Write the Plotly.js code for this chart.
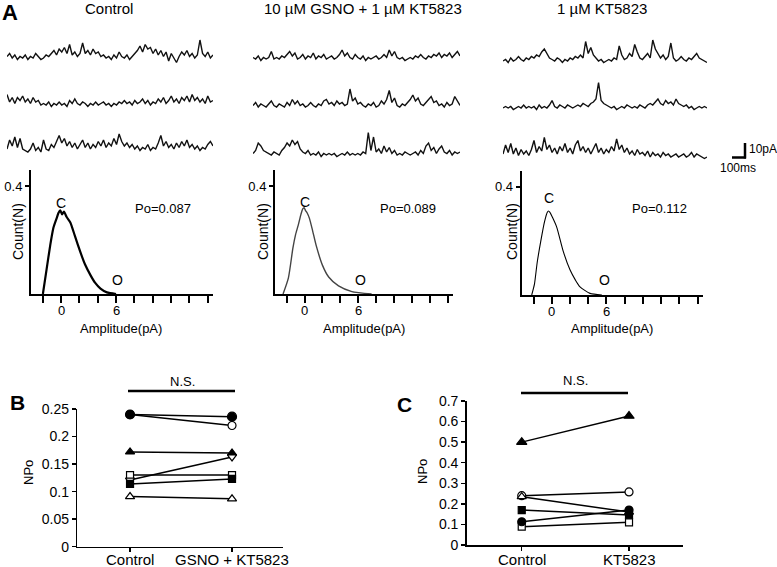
<!DOCTYPE html>
<html><head><meta charset="utf-8">
<script src="https://cdn.plot.ly/plotly-3.0.1.min.js"></script>
<style>html,body{margin:0;padding:0;background:#fff}#chart{width:777px;height:567px}</style>
</head><body><div id="chart"></div>
<script>
// ---------- Panel A: single-channel current traces (pA above closed level), 20 ms samples ----------
const traceDt = 0.02;
const ctrlRow1 = [1,3,0,2,-1,1, 0,2,-1,1,0,3,1,-1,0,2,1, 3,5,2,6,4,7,3, 9, 2,4,1,3, 10, 3,5,2,6,3,4,1,2, 0,1,-1,2,0,4,1,0,2,-1,1,3, 5,8,4,9,6,7,3,6, 2,5,1,4,-2,3,0, -3, 1,4,2,5,1,3,0,2, 12, 3,1,4,0,2];
const ctrlRow2 = [7,2,5,1, 5,3,6,2,4,1,5,2,3,0, 1,0,2,-1,1,0,2,0,1,-1,3,1,4, 1,0,2,1,-1,1,0,2,0,1,2,0,1,-1,1,0,2,1,3, 1,2,0,3,1,2,4,1,3,0,2,1, 4,2,5,1,3,6,2,4,1,5,3,6,2,7,3,5, 2,4,1,6,2,3];
const ctrlRow3 = [2,8,4,10,3,9,2,1, 0,2,6,1,3,0,8, 2,1,5,3,7,11,6,9, 4,7,3,6,2,5,8,3, 6,2,5,3,7,4,8,3, 6,4,9,5,12,7,4, 6,3,5,2,4,1,3,2,5,1,3, 2,6,11,4,7,3,5,2,6,3, 7,4,8,3,5,2,4,1, 3,2,5,7,4];
const gsnoRow1 = [1,0,2,-1,1,0,1,5,0,1, 0,2,1,3,5,2,4,0,1,3, 0,2,1,4,0,2,1,3,0,1, 2,0,1,3,6,2,4,1,0,3, 1,0,2,-1,1,0,1,2,0,1, 3,1,6,2,5,1,0,1,-1,0, 1,0,2,1,3,1,0,2,1,3, 2,4,1,3,2,4,1,3,5,2];
const gsnoRow2 = [1,3,0,2,1,0,2,4,1,0, 2,1,0,3,1,5,2,4,1,2, 0,1,3,1,0,2,1,4,5,2, 3,1,4,2,3,1,2,12,4,6, 2,3,1,0,2,1,3,0,1,4, 2,5,11,3,6,1,0,2,1,3, 5,8,4,6,2,1,3,5,7,3, 4,1,2,0,3,1,2,7,4,1];
const gsnoRow3 = [1,3,8,6,3,2,1,0,2,1, 0,3,5,8,6,10,7,9,4,2, 1,3,0,1,0,2,-1,1,0,1, 0,1,-1,0,1,0,2,0,1,0, 1,0,2,1,15,3,12,2,4,1, 6,2,5,1,3,0,1,0,2,1, 0,1,2,0,3,1,6,8,3,5, 1,4,6,2,1,3,0,2,1,2];
const ktRow1 = [0,1,-1,2,0,1,3,1,0,2, 1,3,2,4,3,6,8,5,2,1, 0,2,1,-1,1,0,2,1,3,2, 4,2,13,5,9,4,2,0,1,-1, 0,1,0,2,1,10,4,1,2,5, 3,11,6,2,1,3,5,2,14,8, 5,2,4,1,3,12,2,0,1,3, 1,0,2,1,3,5,2,1,0,-1];
const ktRow2 = [0,1,0,1,-1,0,1,0,2,0, 1,0,1,-1,2,0,1,0,2,5, 1,0,2,1,0,2,1,0,1,2, 1,3,2,1,3,4,6,17,5,3, 2,1,0,1,-1,0,1,0,2,1, 0,1,0,2,1,0,2,3,2,4, 6,3,2,5,3,4,2,6,3,2, 1,2,0,1,-1,0,1,0,1,0];
const ktRow3 = [2,8,3,9,2,6,1,5,2,4, 1,5,11,3,7,4,13,5,8,3, 6,2,7,4,9,3,6,2,8,11, 4,7,3,6,2,5,9,3,6,2, 5,3,7,4,12,5,8,3,6,2, 4,1,5,2,3,1,4,0,3,1, 2,0,3,1,2,0,1,2,0,1, 2,0,1,3,0,2,1,0,-1,0];

// ---------- Panel A: all-points amplitude histograms ----------
const histCtrlAmp   = [-2.0,-1.6,-1.2,-0.85,-0.5,-0.3,-0.1,0.1,0.3,0.6,1.0,1.5,2.1,2.6,3.2,3.7,4.3,5.0,6.0];
const histCtrlCount = [0,0.09,0.18,0.245,0.28,0.30,0.31,0.295,0.305,0.285,0.265,0.215,0.155,0.11,0.07,0.042,0.02,0.006,0];
const histGsnoAmp   = [-2.4,-1.8,-1.3,-1.0,-0.7,-0.4,-0.2,-0.05,0.1,0.3,0.55,0.9,1.3,2.0,2.7,3.8,5.3,7.5];
const histGsnoCount = [0,0.06,0.17,0.22,0.255,0.295,0.315,0.32,0.31,0.30,0.28,0.235,0.18,0.107,0.063,0.03,0.009,0];
const histKtAmp     = [-2.2,-1.9,-1.6,-1.2,-0.8,-0.5,-0.36,-0.2,0.1,0.55,1.27,2.0,2.6,3.1,4.2,5.5];
const histKtCount   = [0,0.04,0.12,0.20,0.27,0.305,0.31,0.305,0.285,0.25,0.16,0.093,0.055,0.03,0.006,0];
const histTickVals  = [-2,0,2,4,6,8,10,12,14,16];
const histTickText  = ['','0','','','6','','','','',''];
const panelTitles = ['Control','10 µM GSNO + 1 µM KT5823','1 µM KT5823'];
const poLabels = ['Po=0.087','Po=0.089','Po=0.112'];

// ---------- Panel B ----------
const bCategories = ['Control','GSNO + KT5823'];
const bOpenCircle     = [0.240,0.220];
const bFilledCircle   = [0.240,0.236];
const bFilledTriangle = [0.172,0.170];
const bOpenTriDown    = [0.121,0.163];
const bOpenSquare     = [0.130,0.130];
const bFilledSquare   = [0.114,0.123];
const bOpenTriangle   = [0.091,0.087];
const bTickVals = [0,0.05,0.1,0.15,0.2,0.25];
const bTickText = ['0','0.05','0.1','0.15','0.2','0.25'];

// ---------- Panel C ----------
const cCategories = ['Control','KT5823'];
const cFilledTriangle = [0.500,0.627];
const cOpenCircle     = [0.240,0.258];
const cOpenTriangle   = [0.235,0.160];
const cFilledSquare   = [0.170,0.146];
const cFilledCircle   = [0.113,0.170];
const cOpenSquare     = [0.089,0.110];
const cTickVals = [0,0.1,0.2,0.3,0.4,0.5,0.6,0.7];
const cTickText = ['0','0.1','0.2','0.3','0.4','0.5','0.6','0.7'];

// ================= build =================
const FONT = 'Liberation Sans, Arial, sans-serif';
const W = 777, H = 567;
const fx = p => p / W, fy = p => 1 - p / H;
const data = [];
const layout = {width:W, height:H, margin:{l:0,r:0,t:0,b:0}, paper_bgcolor:'#fff', plot_bgcolor:'rgba(0,0,0,0)',
  showlegend:false, font:{family:FONT, color:'#000', size:13}, annotations:[], shapes:[], hovermode:false};
let axN = 0;
function addAxes(xa, ya){
  axN++; const s = axN === 1 ? '' : String(axN);
  layout['xaxis'+s] = Object.assign({anchor:'y'+s, fixedrange:true}, xa);
  layout['yaxis'+s] = Object.assign({anchor:'x'+s, fixedrange:true}, ya);
  return {x:'x'+s, y:'y'+s};
}
function ann(text, x, y, o){
  layout.annotations.push(Object.assign({text:text, x:fx(x), y:fy(y), xref:'paper', yref:'paper',
    showarrow:false, xanchor:'center', yanchor:'middle', font:{size:13, family:FONT, color:'#000'}}, o||{}));
}

// traces
const recordings = [[ctrlRow1,ctrlRow2,ctrlRow3],[gsnoRow1,gsnoRow2,gsnoRow3],[ktRow1,ktRow2,ktRow3]];
const recGeom = [{x0:7,x1:213,base:[58,105,152]},{x0:253,x1:460,base:[59,107,155]},{x0:503,x1:707,base:[61,108,157]}];
recordings.forEach((rows,c)=>rows.forEach((vals,r)=>{
  const g = recGeom[c], yb = g.base[r];
  const ax = addAxes({domain:[fx(g.x0),fx(g.x1)], range:[0,(vals.length-1)*traceDt], visible:false},
                     {domain:[fy(yb+9),fy(yb-27)], range:[-6,18], visible:false});
  data.push({type:'scatter', mode:'lines', x:vals.map((_,i)=>i*traceDt), y:vals, xaxis:ax.x, yaxis:ax.y,
    line:{color:'#111', width:1.4}, hoverinfo:'skip'});
}));

// histograms
const hists = [[histCtrlAmp,histCtrlCount],[histGsnoAmp,histGsnoCount],[histKtAmp,histKtCount]];
const histGeom = [
  {x0:31,x1:213,y0:170,y1:294,y04:186,color:'#000',w:2.2, cx:61,cy:203, ox:117,oy:280, px:163,py:208, tx:109, nx:18, ax:121},
  {x0:275,x1:453,y0:170,y1:294,y04:186,color:'#444',w:1.4, cx:305,cy:202, ox:360,oy:280, px:408,py:208, tx:363, nx:263, ax:364},
  {x0:521.7,x1:703,y0:171,y1:295,y04:186.7,color:'#000',w:1.1, cx:549,cy:198, ox:604,oy:280, px:659,py:208, tx:602, nx:512, ax:612}
];
hists.forEach((h,i)=>{
  const g = histGeom[i];
  const top = 0.4*(g.y1-g.y0)/(g.y1-g.y04);
  const ax = addAxes(
    {domain:[fx(g.x0),fx(g.x1)], range:[-3.3,16.6], tickvals:histTickVals, showticklabels:false, ticks:'outside',
     ticklen:7, tickwidth:2, tickcolor:'#000', showline:true, linewidth:2, linecolor:'#000', showgrid:false, zeroline:false},
    {domain:[fy(g.y1),fy(g.y0)], range:[0,top], tickvals:[0.4], ticktext:['0.4'], ticks:'outside', ticklen:4, tickwidth:2,
     tickcolor:'#000', showline:true, linewidth:2, linecolor:'#000', showgrid:false, zeroline:false, tickfont:{size:13, family:FONT}});
  data.push({type:'scatter', mode:'lines', x:h[0], y:h[1], xaxis:ax.x, yaxis:ax.y, line:{color:g.color, width:g.w, shape:'spline', smoothing:0.6}, hoverinfo:'skip', cliponaxis:false});
  histTickVals.forEach((v,k)=>{ if(histTickText[k]) layout.annotations.push({text:histTickText[k], x:v, xref:ax.x, y:fy(g.y1+16), yref:'paper',
    showarrow:false, xanchor:'center', yanchor:'middle', font:{size:13, family:FONT, color:'#000'}}); });
  ann(panelTitles[i], g.tx, 8, {font:{size:15, family:FONT}});
  ann('Count(N)', g.nx, 232, {textangle:-90, font:{size:14, family:FONT}});
  ann('C', g.cx, g.cy, {font:{size:14, family:FONT}});
  ann('O', g.ox, g.oy, {font:{size:14, family:FONT}});
  ann(poLabels[i], g.px, g.py, {font:{size:13, family:FONT}});
  ann('Amplitude(pA)', g.ax, 328, {font:{size:13, family:FONT}});
});
ann('<b>A</b>', 10, 12, {font:{size:22, family:FONT}});

// scale bar
layout.shapes.push({type:'line', xref:'paper', yref:'paper', x0:fx(745), x1:fx(745), y0:fy(143), y1:fy(158.5), line:{color:'#000', width:2.5}});
layout.shapes.push({type:'line', xref:'paper', yref:'paper', x0:fx(732), x1:fx(746), y0:fy(157.5), y1:fy(157.5), line:{color:'#000', width:2.5}});
ann('10pA', 747, 149, {xanchor:'left', font:{size:12, family:FONT}});
ann('100ms', 738, 168, {font:{size:12, family:FONT}});

// dot-plot panels
function pairPanel(cats, series, geom, yr, tv, tt){
  const ax = addAxes(
    {domain:[fx(geom.x0),fx(geom.x1)], type:'category', categoryarray:cats, range:geom.xr, showline:true, linewidth:1.5,
     linecolor:'#000', ticks:'outside', ticklen:4, tickwidth:1.5, tickcolor:'#000', showgrid:false, zeroline:false, showticklabels:false},
    {domain:[fy(geom.y1),fy(geom.y0)], range:yr, tickvals:tv, ticktext:tt, ticks:'outside', ticklen:4, tickwidth:1.5, tickcolor:'#000',
     showline:true, linewidth:1.5, linecolor:'#000', showgrid:false, zeroline:false, tickfont:{size:14, family:FONT}});
  cats.forEach(c=>layout.annotations.push({text:c, x:c, xref:ax.x, y:fy(559), yref:'paper', showarrow:false,
    xanchor:'center', yanchor:'middle', font:{size:15, family:FONT, color:'#000'}}));
  series.forEach(s=>{
    data.push({type:'scatter', mode:'lines+markers', x:cats, y:s.y, xaxis:ax.x, yaxis:ax.y, cliponaxis:false, hoverinfo:'skip',
      line:{color:'#000', width:1.5},
      marker:{symbol:s.sym, size:s.size||8, color:s.fill?'#000':'#fff', line:{color:'#000', width:1.2}}});
  });
}
pairPanel(bCategories, [
  {y:bOpenCircle, sym:'circle', fill:false},
  {y:bFilledCircle, sym:'circle', fill:true, size:9},
  {y:bFilledTriangle, sym:'triangle-up', fill:true},
  {y:bOpenSquare, sym:'square', fill:false, size:7},
  {y:bOpenTriDown, sym:'triangle-down', fill:false},
  {y:bFilledSquare, sym:'square', fill:true, size:7},
  {y:bOpenTriangle, sym:'triangle-up', fill:false}
], {x0:77.3, x1:283, y0:409, y1:546.7, xr:[-0.517,1.5]}, [0,0.25], bTickVals, bTickText);
pairPanel(cCategories, [
  {y:cFilledTriangle, sym:'triangle-up', fill:true, size:9},
  {y:cOpenCircle, sym:'circle', fill:false},
  {y:cOpenTriangle, sym:'triangle-up', fill:false},
  {y:cFilledSquare, sym:'square', fill:true, size:7},
  {y:cOpenSquare, sym:'square', fill:false, size:7},
  {y:cFilledCircle, sym:'circle', fill:true}
], {x0:466.7, x1:683.3, y0:401, y1:545, xr:[-0.513,1.506]}, [0,0.7], cTickVals, cTickText);

// significance bars and labels
layout.shapes.push({type:'line', xref:'paper', yref:'paper', x0:fx(128), x1:fx(235), y0:fy(391), y1:fy(391), line:{color:'#000', width:2.5}});
layout.shapes.push({type:'line', xref:'paper', yref:'paper', x0:fx(521), x1:fx(628), y0:fy(393), y1:fy(393), line:{color:'#000', width:2.5}});
ann('N.S.', 182, 381, {font:{size:13, family:FONT}});
ann('N.S.', 575, 380, {font:{size:13, family:FONT}});
ann('<b>B</b>', 17, 402, {font:{size:21, family:FONT}});
ann('<b>C</b>', 404, 404, {font:{size:21, family:FONT}});
ann('NPo', 28, 473, {textangle:-90, font:{size:13, family:FONT}});
ann('NPo', 422, 472, {textangle:-90, font:{size:13, family:FONT}});

Plotly.newPlot('chart', data, layout, {staticPlot:true, displayModeBar:false});
</script></body></html>
